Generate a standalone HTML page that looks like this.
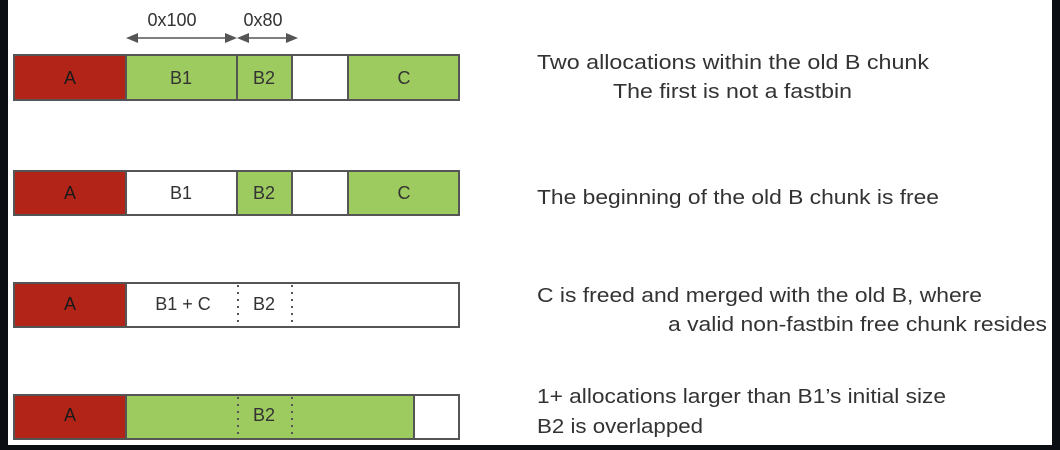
<!DOCTYPE html>
<html><head><meta charset="utf-8"><style>
html,body{margin:0;padding:0;background:#0b0e13;}
svg{display:block}
</style></head><body>
<svg width="1060" height="450" xmlns="http://www.w3.org/2000/svg" font-family="Liberation Sans, sans-serif">
<rect x="0" y="0" width="1060" height="450" fill="#0b0e13"/>
<rect x="8" y="0" width="1044" height="445" fill="#fff"/>
<g stroke="#555" stroke-width="2">
<!-- row1 -->
<rect x="14" y="55" width="112" height="45" fill="#b22418"/>
<rect x="126" y="55" width="111" height="45" fill="#9dcb5f"/>
<rect x="237" y="55" width="55" height="45" fill="#9dcb5f"/>
<rect x="292" y="55" width="56" height="45" fill="#fff"/>
<rect x="348" y="55" width="111" height="45" fill="#9dcb5f"/>
<!-- row2 -->
<rect x="14" y="171" width="112" height="44" fill="#b22418"/>
<rect x="126" y="171" width="111" height="44" fill="#fff"/>
<rect x="237" y="171" width="55" height="44" fill="#9dcb5f"/>
<rect x="292" y="171" width="56" height="44" fill="#fff"/>
<rect x="348" y="171" width="111" height="44" fill="#9dcb5f"/>
<!-- row3 -->
<rect x="14" y="283" width="112" height="44" fill="#b22418"/>
<rect x="126" y="283" width="333" height="44" fill="#fff"/>
<!-- row4 -->
<rect x="14" y="395" width="112" height="44" fill="#b22418"/>
<rect x="126" y="395" width="288" height="44" fill="#9dcb5f"/>
<rect x="414" y="395" width="45" height="44" fill="#fff"/>
</g>
<g stroke="#555" stroke-width="2" stroke-dasharray="2,5" fill="none">
<line x1="238" y1="285" x2="238" y2="326"/><line x1="292" y1="285" x2="292" y2="326"/>
<line x1="238" y1="397" x2="238" y2="438"/><line x1="292" y1="397" x2="292" y2="438"/>
</g>
<!-- arrows -->
<g stroke="#555" stroke-width="1.5" fill="#555">
<line x1="132" y1="38" x2="231" y2="38"/>
<line x1="243" y1="38" x2="292" y2="38"/>
<polygon points="126,38 138,33 138,43" stroke="none"/>
<polygon points="237,38 225,33 225,43" stroke="none"/>
<polygon points="237,38 249,33 249,43" stroke="none"/>
<polygon points="298,38 286,33 286,43" stroke="none"/>
</g>
<g font-size="18" fill="#333" text-anchor="middle">
<text x="172" y="26">0x100</text>
<text x="263" y="26">0x80</text>
<text x="70" y="84" fill="#1a1a1a">A</text><text x="181" y="84">B1</text><text x="264" y="84">B2</text><text x="404" y="84">C</text>
<text x="70" y="199" fill="#1a1a1a">A</text><text x="181" y="199">B1</text><text x="264" y="199">B2</text><text x="404" y="199">C</text>
<text x="70" y="310" fill="#1a1a1a">A</text><text x="183" y="310">B1 + C</text><text x="264" y="310">B2</text>
<text x="70" y="421" fill="#1a1a1a">A</text><text x="264" y="421">B2</text>
</g>
<g font-size="20" fill="#333">
<text x="537" y="69" textLength="392" lengthAdjust="spacingAndGlyphs">Two allocations within the old B chunk</text>
<text x="613" y="98" textLength="239" lengthAdjust="spacingAndGlyphs">The first is not a fastbin</text>
<text x="537" y="204" textLength="402" lengthAdjust="spacingAndGlyphs">The beginning of the old B chunk is free</text>
<text x="537" y="302" textLength="445" lengthAdjust="spacingAndGlyphs">C is freed and merged with the old B, where</text>
<text x="668" y="331" textLength="379" lengthAdjust="spacingAndGlyphs">a valid non-fastbin free chunk resides</text>
<text x="537" y="403" textLength="409" lengthAdjust="spacingAndGlyphs">1+ allocations larger than B1’s initial size</text>
<text x="537" y="433" textLength="166" lengthAdjust="spacingAndGlyphs">B2 is overlapped</text>
</g>
</svg>
</body></html>
